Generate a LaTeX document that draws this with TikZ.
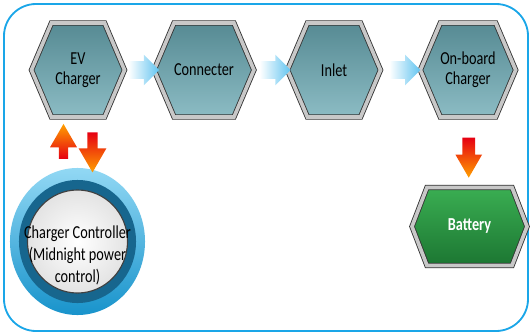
\documentclass[tikz,border=0pt]{standalone}
\usepackage{fontspec}
\setmainfont{Carlito}[FakeStretch=0.78]
\usepackage{xcolor}
\usepackage{tikz}
\usetikzlibrary{shapes.symbols}
\usetikzlibrary{shapes.arrows}
\usetikzlibrary{shapes.geometric}
\usetikzlibrary{calc}

\definecolor{frameblue}{HTML}{1AA6E8}
\definecolor{tealtop}{HTML}{568A93}
\definecolor{tealbot}{HTML}{8CBCC4}
\definecolor{greentop}{HTML}{3AAE52}
\definecolor{greenbot}{HTML}{1C7632}
\definecolor{skyhead}{HTML}{62C4F0}
\definecolor{hotred}{HTML}{E60012}
\definecolor{hotorange}{HTML}{FFA000}
\definecolor{ringlight}{HTML}{92D8F4}
\definecolor{ringdark}{HTML}{1893CB}
\definecolor{ringdeep}{HTML}{17668E}
\definecolor{silver}{HTML}{C8C8C8}

\tikzset{
	hexbox/.style={signal, signal to=east and west, signal pointer angle=134,
		inner sep=0pt, minimum width=2.325cm, minimum height=2.35cm,
		draw=gray!40!black, line width=0.6pt, double=silver, double distance=2.6pt,
		top color=tealtop, bottom color=tealbot, align=center,
		font=\fontsize{13}{14.2}\selectfont},
	flowarrow/.style={single arrow, single arrow head extend=0.1625cm,
		single arrow tip angle=90, inner xsep=0pt, inner ysep=0.2125cm,
		minimum height=0.775cm, left color=white, right color=skyhead, draw=none},
	hotarrow/.style={single arrow, single arrow head extend=0.22cm,
		single arrow tip angle=60, inner ysep=0pt, inner xsep=0.12cm, draw=none}
}

\begin{document}
\begin{tikzpicture}[x=0.025cm, y=-0.025cm]
	\useasboundingbox (0,0) rectangle (532,335);
	\draw[frameblue, line width=1.3pt, rounded corners=0.8cm] (4,4) rectangle (528,331);

	% top row
	\node[hexbox] (ev)  at (78,70)  {EV\\Charger};
	\node[hexbox] (con) at (204,70) {Connecter};
	\node[hexbox] (inl) at (334,70) {Inlet};
	\node[hexbox] (obc) at (468,70) {On-board\\Charger};

	\foreach \From/\To in {ev/con, con/inl, inl/obc}{
		\node[flowarrow] (\From-\To) at ($(\From.east)!0.5!(\To.west)$) {};
	};

	% battery
	\node[hexbox, signal pointer angle=138, minimum width=2.875cm, minimum height=1.95cm,
		top color=greentop, bottom color=greenbot, text=white,
		font=\fontsize{13}{14.2}\selectfont\bfseries] (bat) at (469.5,226.5) {Battery};
	\node[hotarrow, shape border rotate=270, minimum height=1cm, inner xsep=0.15cm,
		single arrow head extend=0.175cm,
		top color=hotred, bottom color=hotorange] (obc-bat) at ($(obc.south)!0.5!(bat.north)$) {};

	% controller
	\node[ellipse, minimum width=3.375cm, minimum height=3.675cm, shading angle=45,
		top color=ringlight, bottom color=ringdark] (ctrl) at (77.5,241.5) {};
	\node[ellipse, minimum width=2.925cm, minimum height=3.075cm, fill=ringdeep] (ctrlring) at (ctrl.center) {};
	\node[ellipse, minimum width=2.5cm, minimum height=2.575cm, inner color=white, outer color=gray!22,
		draw=gray!50!black, line width=0.8pt] (ctrlcore) at (ctrl.center) {};
	\node[align=center, font=\fontsize{13}{15.6}\selectfont] (ctrltext) at (77.5,255)
		{Charger Controller\\(Midnight power\\control)};

	\node[hotarrow, shape border rotate=90, minimum height=0.875cm, inner xsep=0.11cm,
		top color=hotorange, bottom color=hotred] (up) at (63.5,145.5) {};
	\node[hotarrow, shape border rotate=270, minimum height=1cm,
		top color=hotred, bottom color=hotorange] (down) at (92.5,148) {};
\end{tikzpicture}
\end{document}
